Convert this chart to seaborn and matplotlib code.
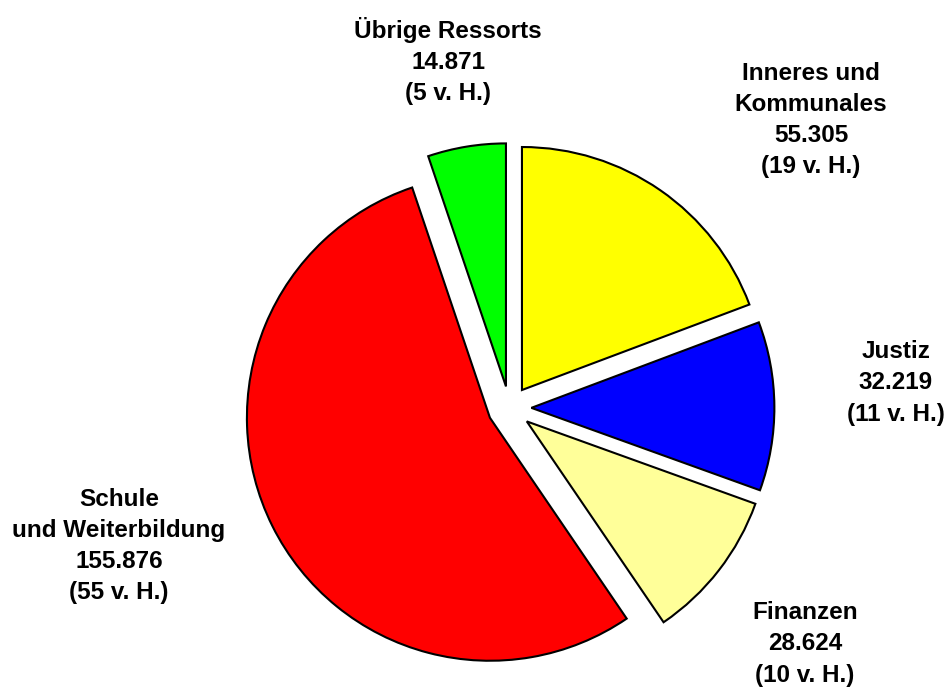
# Imports

import seaborn           as sns
import matplotlib.pyplot as plt

#####

# Data (values in thousands, shares as printed)

ressorts = ["Inneres und\nKommunales", "Justiz", "Finanzen", "Schule\nund Weiterbildung", "Übrige Ressorts"]
werte    = [55.305, 32.219, 28.624, 155.876, 14.871]
anteile  = [19, 11, 10, 55, 5]
farben   = ["#FFFF00", "#0000FF", "#FFFF99", "#FF0000", "#00FF00"]

#####

sns.set_style("white")
plt.rcParams["font.family"] = ["Liberation Sans", "DejaVu Sans"]

fig = plt.figure(figsize = (9.53, 6.88), dpi = 100, facecolor = "white")
ax  = fig.add_axes([0, 0, 1, 1])

wedges, _ = ax.pie(werte, colors = farben, startangle = 90, counterclock = False,
                   explode = [0.09] * len(werte),
                   wedgeprops = {"edgecolor": "black", "linewidth": 1.5})

# label positions (data units, pie radius = 1)
label_pos = [(1.241, 1.185), (1.590, 0.103), (1.216, -0.971), (-1.607, -0.568), (-0.253, 1.428)]

for name, wert, anteil, (x, y) in zip(ressorts, werte, anteile, label_pos):
    txt = f"{name}\n{wert:.3f}\n({anteil} v. H.)"
    ax.text(x, y, txt, ha = "center", va = "center", fontsize = 17.5,
            fontweight = "bold", linespacing = 1.45, color = "black")

ax.set_xlim(-509.5 / 243, (953 - 509.5) / 243)
ax.set_ylim(-280 / 243, 408 / 243)
ax.set_aspect("equal")
ax.axis("off")

fig.savefig("out.png", dpi = 100, facecolor = "white")
